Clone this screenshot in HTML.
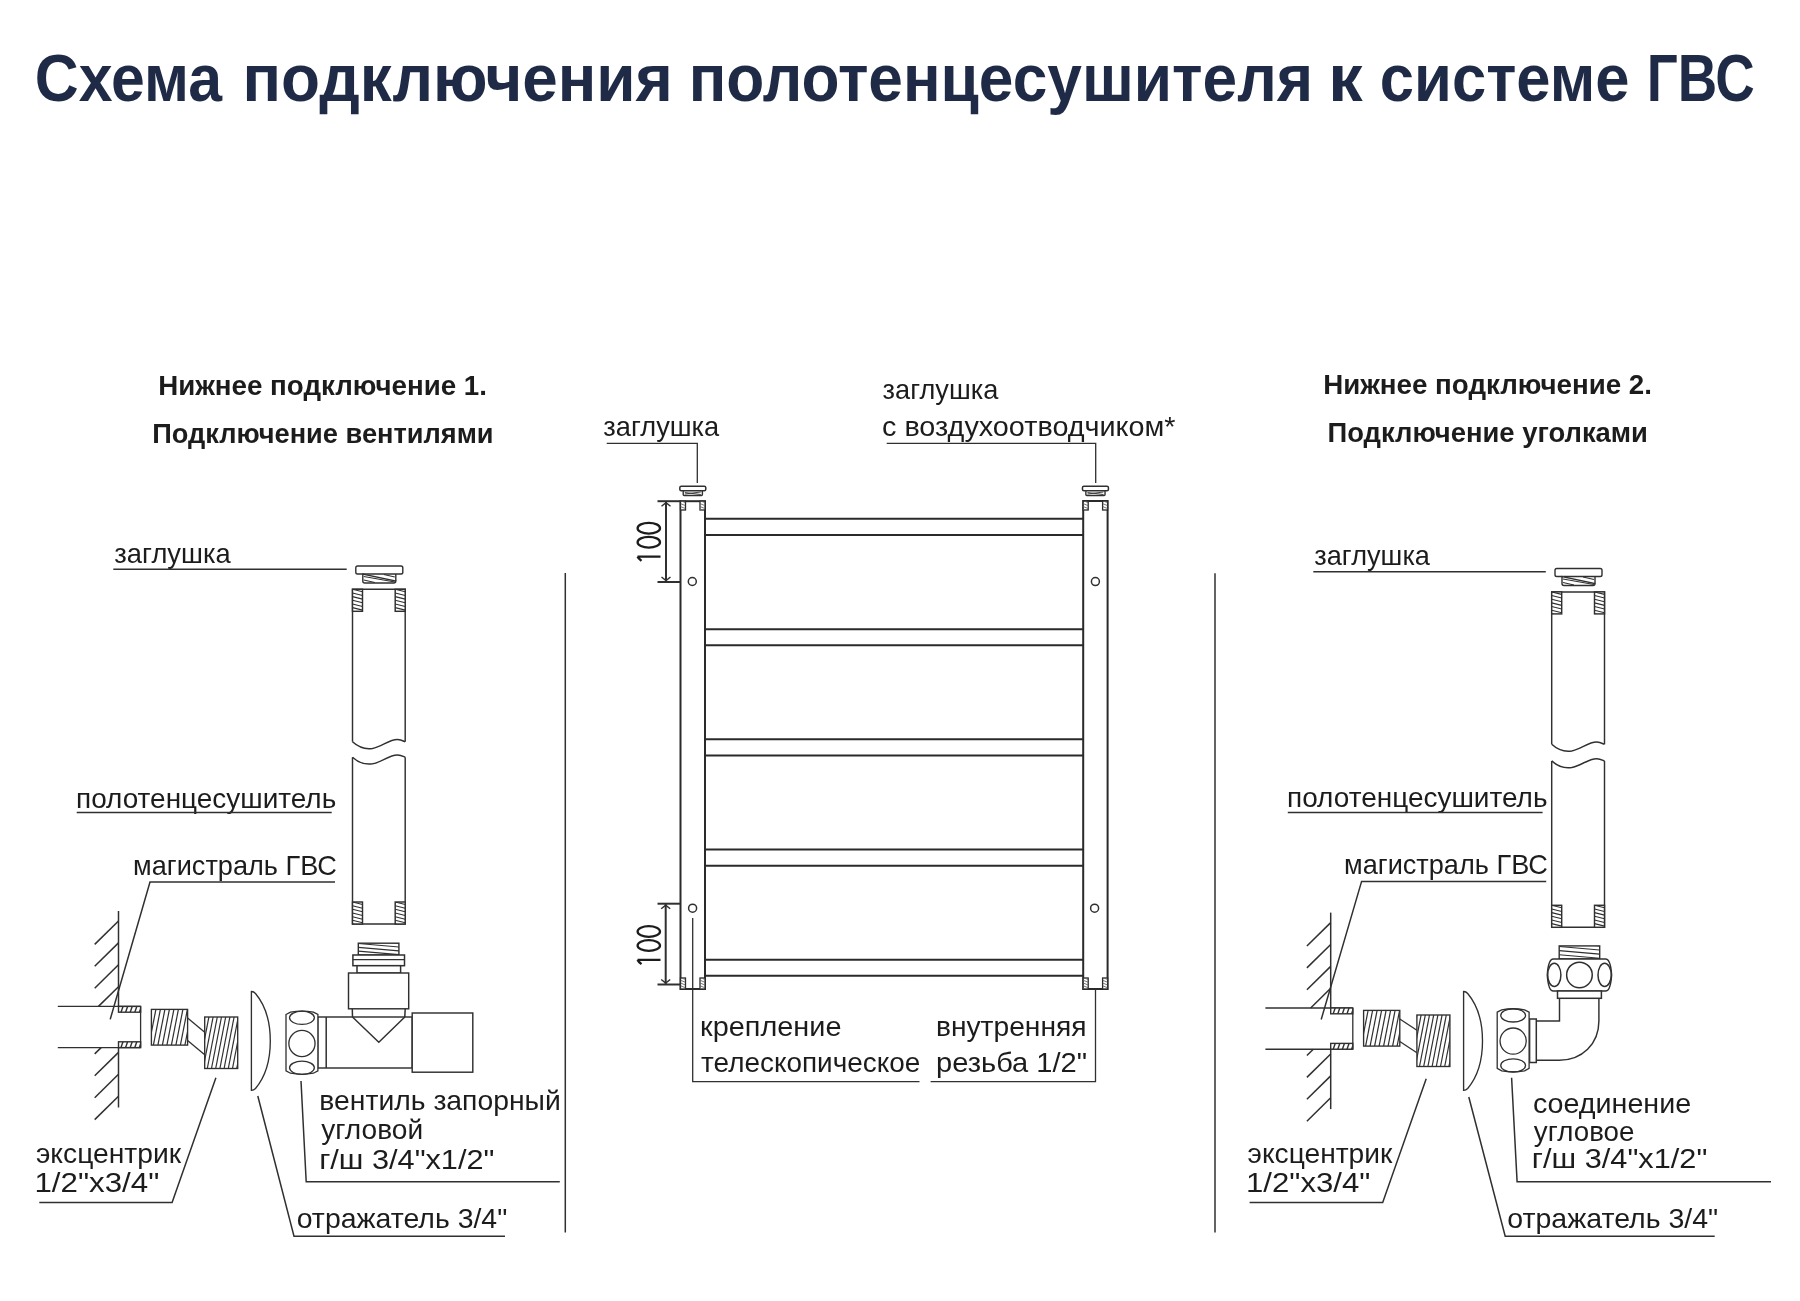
<!DOCTYPE html><html><head><meta charset="utf-8"><title>Схема подключения</title><style>html,body{margin:0;padding:0;background:#fff;}svg{display:block;font-family:"Liberation Sans",sans-serif;will-change:transform;}</style></head><body>
<svg width="1800" height="1301" viewBox="0 0 1800 1301">
<rect x="0" y="0" width="1800" height="1301" fill="#fff"/>
<defs><clipPath id="c0"><rect x="352.5" y="589.3" width="10" height="22"/></clipPath><clipPath id="c1"><rect x="395.2" y="589.3" width="10" height="22"/></clipPath><clipPath id="c2"><rect x="352.5" y="902" width="10" height="22"/></clipPath><clipPath id="c3"><rect x="395.2" y="902" width="10" height="22"/></clipPath><clipPath id="c4"><rect x="358.3" y="943.2" width="40.6" height="11.8"/></clipPath><clipPath id="c5"><rect x="118.5" y="1006.4" width="22.1" height="5.8"/></clipPath><clipPath id="c6"><rect x="118.5" y="1041.8" width="22.1" height="5.8"/></clipPath><clipPath id="c7"><rect x="151.4" y="1009.4" width="36.2" height="35.7"/></clipPath><clipPath id="c8"><rect x="204.7" y="1017" width="33" height="51.5"/></clipPath><clipPath id="c9"><rect x="680.5" y="501.2" width="5" height="8.8"/></clipPath><clipPath id="c10"><rect x="680.5" y="978" width="5" height="11"/></clipPath><clipPath id="c11"><rect x="700" y="501.2" width="5" height="8.8"/></clipPath><clipPath id="c12"><rect x="700" y="978" width="5" height="11"/></clipPath><clipPath id="c13"><rect x="1083.2" y="501.2" width="5" height="8.8"/></clipPath><clipPath id="c14"><rect x="1083.2" y="978" width="5" height="11"/></clipPath><clipPath id="c15"><rect x="1102.6" y="501.2" width="5" height="8.8"/></clipPath><clipPath id="c16"><rect x="1102.6" y="978" width="5" height="11"/></clipPath><clipPath id="c17"><rect x="1551.7" y="591.9" width="10" height="22"/></clipPath><clipPath id="c18"><rect x="1594.5" y="591.9" width="10" height="22"/></clipPath><clipPath id="c19"><rect x="1551.7" y="905.3" width="10" height="22"/></clipPath><clipPath id="c20"><rect x="1594.5" y="905.3" width="10" height="22"/></clipPath><clipPath id="c21"><rect x="1559.2" y="945.9" width="40.5" height="13"/></clipPath><clipPath id="c22"><rect x="1330.7" y="1008" width="22.1" height="5.8"/></clipPath><clipPath id="c23"><rect x="1330.7" y="1043.4" width="22.1" height="5.8"/></clipPath><clipPath id="c24"><rect x="1363.6" y="1010.4" width="36.2" height="35.7"/></clipPath><clipPath id="c25"><rect x="1416.9" y="1015" width="33" height="51.5"/></clipPath></defs>
<text x="34.87" y="101.3" font-size="66" fill="#1f2b46" font-weight="bold" textLength="187.07" lengthAdjust="spacingAndGlyphs">Схема</text>
<text x="242.53" y="101.3" font-size="66" fill="#1f2b46" font-weight="bold" textLength="430.29" lengthAdjust="spacingAndGlyphs">подключения</text>
<text x="688.64" y="101.3" font-size="66" fill="#1f2b46" font-weight="bold" textLength="624.37" lengthAdjust="spacingAndGlyphs">полотенцесушителя</text>
<text x="1328.28" y="101.3" font-size="66" fill="#1f2b46" font-weight="bold" textLength="34.45" lengthAdjust="spacingAndGlyphs">к</text>
<text x="1379.84" y="101.3" font-size="66" fill="#1f2b46" font-weight="bold" textLength="249.66" lengthAdjust="spacingAndGlyphs">системе</text>
<text x="1646.85" y="101.3" font-size="66" fill="#1f2b46" font-weight="bold" textLength="107.79" lengthAdjust="spacingAndGlyphs">ГВС</text>
<text x="158.2" y="395" font-size="27" fill="#1c1c1c" font-weight="bold" textLength="328.71" lengthAdjust="spacingAndGlyphs">Нижнее подключение 1.</text>
<text x="152.23" y="442.7" font-size="27" fill="#1c1c1c" font-weight="bold" textLength="341.35" lengthAdjust="spacingAndGlyphs">Подключение вентилями</text>
<text x="1323.2" y="394" font-size="27" fill="#1c1c1c" font-weight="bold" textLength="328.71" lengthAdjust="spacingAndGlyphs">Нижнее подключение 2.</text>
<text x="1327.52" y="441.7" font-size="27" fill="#1c1c1c" font-weight="bold" textLength="320.43" lengthAdjust="spacingAndGlyphs">Подключение уголками</text>
<line x1="565.3" y1="573" x2="565.3" y2="1232.4" stroke="#303030" stroke-width="1.5"/>
<rect x="355.8" y="566" width="47" height="8" rx="1.8" stroke="#303030" stroke-width="1.4" fill="#fff"/>
<path d="M362.8,574 L362.8,581 Q362.8,583 364.8,583 L393.8,583 Q395.8,583 395.8,581 Z" stroke="#303030" stroke-width="1.4" fill="#fff"/>
<path d="M395.8,581 L395.8,574" stroke="#303030" stroke-width="1.4" fill="none"/>
<line x1="363.8" y1="576.5" x2="394.8" y2="582" stroke="#303030" stroke-width="1.1"/>
<line x1="363.8" y1="580" x2="374.8" y2="582.5" stroke="#303030" stroke-width="1.1"/>
<line x1="383.8" y1="574.5" x2="394.8" y2="577" stroke="#303030" stroke-width="1.1"/>
<path d="M352.5,741.8 L352.5,589.3 L405.2,589.3 L405.2,741.8" stroke="#303030" stroke-width="1.45" fill="none"/>
<path d="M352.5,741.8 C358.5,747.3 364.5,749.6 372.5,748.4 C381.5,746.8 389.5,739.4 397.5,739.6 C401.5,739.8 403.5,741.2 405.2,741.8" stroke="#303030" stroke-width="1.5" fill="none"/>
<path d="M352.5,757.2 C358.5,762.7 364.5,765 372.5,763.8 C381.5,762.2 389.5,754.8 397.5,755 C401.5,755.2 403.5,756.6 405.2,757.2" stroke="#303030" stroke-width="1.5" fill="none"/>
<path d="M352.5,757.2 L352.5,924 L405.2,924 L405.2,757.2" stroke="#303030" stroke-width="1.45" fill="none"/>
<rect x="352.5" y="589.3" width="10" height="22" rx="0" stroke="#303030" stroke-width="1.45" fill="#fff"/>
<g clip-path="url(#c0)">
<line x1="352.5" y1="585.63" x2="362.5" y2="588.13" stroke="#303030" stroke-width="1.1"/>
<line x1="352.5" y1="589.3" x2="362.5" y2="591.8" stroke="#303030" stroke-width="1.1"/>
<line x1="352.5" y1="592.97" x2="362.5" y2="595.47" stroke="#303030" stroke-width="1.1"/>
<line x1="352.5" y1="596.63" x2="362.5" y2="599.13" stroke="#303030" stroke-width="1.1"/>
<line x1="352.5" y1="600.3" x2="362.5" y2="602.8" stroke="#303030" stroke-width="1.1"/>
<line x1="352.5" y1="603.97" x2="362.5" y2="606.47" stroke="#303030" stroke-width="1.1"/>
<line x1="352.5" y1="607.63" x2="362.5" y2="610.13" stroke="#303030" stroke-width="1.1"/>
<line x1="352.5" y1="611.3" x2="362.5" y2="613.8" stroke="#303030" stroke-width="1.1"/>
<line x1="352.5" y1="614.97" x2="362.5" y2="617.47" stroke="#303030" stroke-width="1.1"/>
</g>
<rect x="395.2" y="589.3" width="10" height="22" rx="0" stroke="#303030" stroke-width="1.45" fill="#fff"/>
<g clip-path="url(#c1)">
<line x1="395.2" y1="585.63" x2="405.2" y2="588.13" stroke="#303030" stroke-width="1.1"/>
<line x1="395.2" y1="589.3" x2="405.2" y2="591.8" stroke="#303030" stroke-width="1.1"/>
<line x1="395.2" y1="592.97" x2="405.2" y2="595.47" stroke="#303030" stroke-width="1.1"/>
<line x1="395.2" y1="596.63" x2="405.2" y2="599.13" stroke="#303030" stroke-width="1.1"/>
<line x1="395.2" y1="600.3" x2="405.2" y2="602.8" stroke="#303030" stroke-width="1.1"/>
<line x1="395.2" y1="603.97" x2="405.2" y2="606.47" stroke="#303030" stroke-width="1.1"/>
<line x1="395.2" y1="607.63" x2="405.2" y2="610.13" stroke="#303030" stroke-width="1.1"/>
<line x1="395.2" y1="611.3" x2="405.2" y2="613.8" stroke="#303030" stroke-width="1.1"/>
<line x1="395.2" y1="614.97" x2="405.2" y2="617.47" stroke="#303030" stroke-width="1.1"/>
</g>
<rect x="352.5" y="902" width="10" height="22" rx="0" stroke="#303030" stroke-width="1.45" fill="#fff"/>
<g clip-path="url(#c2)">
<line x1="352.5" y1="898.33" x2="362.5" y2="900.83" stroke="#303030" stroke-width="1.1"/>
<line x1="352.5" y1="902" x2="362.5" y2="904.5" stroke="#303030" stroke-width="1.1"/>
<line x1="352.5" y1="905.67" x2="362.5" y2="908.17" stroke="#303030" stroke-width="1.1"/>
<line x1="352.5" y1="909.33" x2="362.5" y2="911.83" stroke="#303030" stroke-width="1.1"/>
<line x1="352.5" y1="913" x2="362.5" y2="915.5" stroke="#303030" stroke-width="1.1"/>
<line x1="352.5" y1="916.67" x2="362.5" y2="919.17" stroke="#303030" stroke-width="1.1"/>
<line x1="352.5" y1="920.33" x2="362.5" y2="922.83" stroke="#303030" stroke-width="1.1"/>
<line x1="352.5" y1="924" x2="362.5" y2="926.5" stroke="#303030" stroke-width="1.1"/>
<line x1="352.5" y1="927.67" x2="362.5" y2="930.17" stroke="#303030" stroke-width="1.1"/>
</g>
<rect x="395.2" y="902" width="10" height="22" rx="0" stroke="#303030" stroke-width="1.45" fill="#fff"/>
<g clip-path="url(#c3)">
<line x1="395.2" y1="898.33" x2="405.2" y2="900.83" stroke="#303030" stroke-width="1.1"/>
<line x1="395.2" y1="902" x2="405.2" y2="904.5" stroke="#303030" stroke-width="1.1"/>
<line x1="395.2" y1="905.67" x2="405.2" y2="908.17" stroke="#303030" stroke-width="1.1"/>
<line x1="395.2" y1="909.33" x2="405.2" y2="911.83" stroke="#303030" stroke-width="1.1"/>
<line x1="395.2" y1="913" x2="405.2" y2="915.5" stroke="#303030" stroke-width="1.1"/>
<line x1="395.2" y1="916.67" x2="405.2" y2="919.17" stroke="#303030" stroke-width="1.1"/>
<line x1="395.2" y1="920.33" x2="405.2" y2="922.83" stroke="#303030" stroke-width="1.1"/>
<line x1="395.2" y1="924" x2="405.2" y2="926.5" stroke="#303030" stroke-width="1.1"/>
<line x1="395.2" y1="927.67" x2="405.2" y2="930.17" stroke="#303030" stroke-width="1.1"/>
</g>
<rect x="358.3" y="943.2" width="40.6" height="11.8" rx="0" stroke="#303030" stroke-width="1.4" fill="#fff"/>
<g clip-path="url(#c4)">
<line x1="358.3" y1="939.7" x2="398.9" y2="943.2" stroke="#303030" stroke-width="1.1"/>
<line x1="358.3" y1="943.53" x2="398.9" y2="947.03" stroke="#303030" stroke-width="1.1"/>
<line x1="358.3" y1="947.35" x2="398.9" y2="950.85" stroke="#303030" stroke-width="1.1"/>
<line x1="358.3" y1="951.17" x2="398.9" y2="954.67" stroke="#303030" stroke-width="1.1"/>
<line x1="358.3" y1="955" x2="398.9" y2="958.5" stroke="#303030" stroke-width="1.1"/>
<line x1="358.3" y1="958.83" x2="398.9" y2="962.33" stroke="#303030" stroke-width="1.1"/>
</g>
<rect x="352.9" y="955" width="51.6" height="10.7" rx="0" stroke="#303030" stroke-width="1.5" fill="#fff"/>
<line x1="352.9" y1="959.7" x2="404.5" y2="959.7" stroke="#303030" stroke-width="1.3"/>
<rect x="357" y="965.7" width="43.6" height="7.3" rx="0" stroke="#303030" stroke-width="1.5" fill="#fff"/>
<rect x="348.5" y="973" width="60.2" height="35.8" rx="0" stroke="#303030" stroke-width="1.45" fill="#fff"/>
<path d="M352.3,1008.8 L352.5,1017 M405.2,1008.8 L404.8,1017" stroke="#303030" stroke-width="1.5" fill="none"/>
<rect x="317.8" y="1017" width="94.4" height="51" rx="0" stroke="#303030" stroke-width="1.45" fill="#fff"/>
<line x1="326.2" y1="1017" x2="326.2" y2="1068" stroke="#303030" stroke-width="1.5"/>
<path d="M352.5,1017 L378.8,1042.2 L404.8,1017" stroke="#303030" stroke-width="1.45" fill="none" stroke-linejoin="miter"/>
<rect x="412.2" y="1013" width="60.6" height="59.2" rx="0" stroke="#303030" stroke-width="1.45" fill="#fff"/>
<line x1="118.5" y1="911" x2="118.5" y2="1006.4" stroke="#303030" stroke-width="1.5"/>
<line x1="118.5" y1="1047.6" x2="118.5" y2="1107.5" stroke="#303030" stroke-width="1.5"/>
<line x1="118.5" y1="921" x2="94.7" y2="944.4" stroke="#303030" stroke-width="1.5"/>
<line x1="118.5" y1="942.9" x2="94.7" y2="966.3" stroke="#303030" stroke-width="1.5"/>
<line x1="118.5" y1="964.8" x2="94.7" y2="988.2" stroke="#303030" stroke-width="1.5"/>
<line x1="118.5" y1="986.7" x2="98.46" y2="1006.4" stroke="#303030" stroke-width="1.5"/>
<line x1="101.11" y1="1047.6" x2="94.7" y2="1053.9" stroke="#303030" stroke-width="1.5"/>
<line x1="118.5" y1="1052.4" x2="94.7" y2="1075.8" stroke="#303030" stroke-width="1.5"/>
<line x1="118.5" y1="1074.3" x2="94.7" y2="1097.7" stroke="#303030" stroke-width="1.5"/>
<line x1="118.5" y1="1096.2" x2="94.7" y2="1119.6" stroke="#303030" stroke-width="1.5"/>
<line x1="57.8" y1="1006.4" x2="140.6" y2="1006.4" stroke="#303030" stroke-width="1.4"/>
<line x1="57.8" y1="1047.6" x2="140.6" y2="1047.6" stroke="#303030" stroke-width="1.4"/>
<line x1="140.6" y1="1006.4" x2="140.6" y2="1047.6" stroke="#303030" stroke-width="1.3"/>
<rect x="118.5" y="1006.4" width="22.1" height="5.8" rx="0" stroke="#303030" stroke-width="1.4" fill="#fff"/>
<g clip-path="url(#c5)">
<line x1="121" y1="1012.2" x2="123" y2="1006.4" stroke="#303030" stroke-width="1.4"/>
<line x1="125.6" y1="1012.2" x2="127.6" y2="1006.4" stroke="#303030" stroke-width="1.4"/>
<line x1="130.2" y1="1012.2" x2="132.2" y2="1006.4" stroke="#303030" stroke-width="1.4"/>
<line x1="134.8" y1="1012.2" x2="136.8" y2="1006.4" stroke="#303030" stroke-width="1.4"/>
<line x1="139.4" y1="1012.2" x2="141.4" y2="1006.4" stroke="#303030" stroke-width="1.4"/>
</g>
<rect x="118.5" y="1041.8" width="22.1" height="5.8" rx="0" stroke="#303030" stroke-width="1.4" fill="#fff"/>
<g clip-path="url(#c6)">
<line x1="121" y1="1047.6" x2="123" y2="1041.8" stroke="#303030" stroke-width="1.4"/>
<line x1="125.6" y1="1047.6" x2="127.6" y2="1041.8" stroke="#303030" stroke-width="1.4"/>
<line x1="130.2" y1="1047.6" x2="132.2" y2="1041.8" stroke="#303030" stroke-width="1.4"/>
<line x1="134.8" y1="1047.6" x2="136.8" y2="1041.8" stroke="#303030" stroke-width="1.4"/>
<line x1="139.4" y1="1047.6" x2="141.4" y2="1041.8" stroke="#303030" stroke-width="1.4"/>
</g>
<rect x="151.4" y="1009.4" width="36.2" height="35.7" rx="0" stroke="#303030" stroke-width="1.35" fill="#fff"/>
<g clip-path="url(#c7)">
<line x1="144.4" y1="1045.1" x2="151.4" y2="1009.4" stroke="#303030" stroke-width="1.2"/>
<line x1="148.9" y1="1045.1" x2="155.9" y2="1009.4" stroke="#303030" stroke-width="1.2"/>
<line x1="153.4" y1="1045.1" x2="160.4" y2="1009.4" stroke="#303030" stroke-width="1.2"/>
<line x1="157.9" y1="1045.1" x2="164.9" y2="1009.4" stroke="#303030" stroke-width="1.2"/>
<line x1="162.4" y1="1045.1" x2="169.4" y2="1009.4" stroke="#303030" stroke-width="1.2"/>
<line x1="166.9" y1="1045.1" x2="173.9" y2="1009.4" stroke="#303030" stroke-width="1.2"/>
<line x1="171.4" y1="1045.1" x2="178.4" y2="1009.4" stroke="#303030" stroke-width="1.2"/>
<line x1="175.9" y1="1045.1" x2="182.9" y2="1009.4" stroke="#303030" stroke-width="1.2"/>
<line x1="180.4" y1="1045.1" x2="187.4" y2="1009.4" stroke="#303030" stroke-width="1.2"/>
<line x1="184.9" y1="1045.1" x2="191.9" y2="1009.4" stroke="#303030" stroke-width="1.2"/>
<line x1="189.4" y1="1045.1" x2="196.4" y2="1009.4" stroke="#303030" stroke-width="1.2"/>
<line x1="193.9" y1="1045.1" x2="200.9" y2="1009.4" stroke="#303030" stroke-width="1.2"/>
</g>
<line x1="187.6" y1="1018" x2="204.7" y2="1032.3" stroke="#303030" stroke-width="1.3"/>
<line x1="187.6" y1="1040.5" x2="204.7" y2="1054.7" stroke="#303030" stroke-width="1.3"/>
<rect x="204.7" y="1017" width="33" height="51.5" rx="0" stroke="#303030" stroke-width="1.35" fill="#fff"/>
<g clip-path="url(#c8)">
<line x1="194.7" y1="1068.5" x2="204.7" y2="1017" stroke="#303030" stroke-width="1.2"/>
<line x1="198.9" y1="1068.5" x2="208.9" y2="1017" stroke="#303030" stroke-width="1.2"/>
<line x1="203.1" y1="1068.5" x2="213.1" y2="1017" stroke="#303030" stroke-width="1.2"/>
<line x1="207.3" y1="1068.5" x2="217.3" y2="1017" stroke="#303030" stroke-width="1.2"/>
<line x1="211.5" y1="1068.5" x2="221.5" y2="1017" stroke="#303030" stroke-width="1.2"/>
<line x1="215.7" y1="1068.5" x2="225.7" y2="1017" stroke="#303030" stroke-width="1.2"/>
<line x1="219.9" y1="1068.5" x2="229.9" y2="1017" stroke="#303030" stroke-width="1.2"/>
<line x1="224.1" y1="1068.5" x2="234.1" y2="1017" stroke="#303030" stroke-width="1.2"/>
<line x1="228.3" y1="1068.5" x2="238.3" y2="1017" stroke="#303030" stroke-width="1.2"/>
<line x1="232.5" y1="1068.5" x2="242.5" y2="1017" stroke="#303030" stroke-width="1.2"/>
<line x1="236.7" y1="1068.5" x2="246.7" y2="1017" stroke="#303030" stroke-width="1.2"/>
<line x1="240.9" y1="1068.5" x2="250.9" y2="1017" stroke="#303030" stroke-width="1.2"/>
<line x1="245.1" y1="1068.5" x2="255.1" y2="1017" stroke="#303030" stroke-width="1.2"/>
</g>
<path d="M251.4,1090.4 L251.4,991.5 Q253.5,991.3 255.5,993.5 C266,1006 270.3,1024 270.3,1041 C270.3,1058 266,1076 255.5,1088.5 Q253.5,1090.5 251.4,1090.4 Z" stroke="#303030" stroke-width="1.35" fill="none"/>
<path d="M286,1014.5 L290.5,1012.2 Q301.95,1010.1 313.4,1012.2 L317.9,1014.5 L317.9,1070.8 L313.4,1073.2 Q301.95,1075.5 290.5,1073.2 L286,1070.8 Z" stroke="#303030" stroke-width="1.3" fill="#fff"/>
<ellipse cx="301.95" cy="1017.8" rx="12.4" ry="6.6" stroke="#303030" stroke-width="1.3" fill="none"/>
<ellipse cx="301.95" cy="1043.5" rx="13.1" ry="13.1" stroke="#303030" stroke-width="1.3" fill="none"/>
<ellipse cx="301.95" cy="1067.8" rx="12.4" ry="6.6" stroke="#303030" stroke-width="1.3" fill="none"/>
<text x="114.32" y="562.7" font-size="28" fill="#1c1c1c" textLength="116.35" lengthAdjust="spacingAndGlyphs">заглушка</text>
<line x1="113.3" y1="569.3" x2="346.7" y2="569.3" stroke="#303030" stroke-width="1.5"/>
<text x="76.04" y="807.5" font-size="28" fill="#1c1c1c" textLength="260.15" lengthAdjust="spacingAndGlyphs">полотенцесушитель</text>
<line x1="76.7" y1="812.5" x2="331.7" y2="812.5" stroke="#303030" stroke-width="1.5"/>
<text x="133.1" y="874.7" font-size="28" fill="#1c1c1c" textLength="203.84" lengthAdjust="spacingAndGlyphs">магистраль ГВС</text>
<path d="M335,882 L150,882 L110.2,1019.4" stroke="#303030" stroke-width="1.5" fill="none" stroke-linejoin="miter"/>
<path d="M215.9,1077.7 L172.1,1202.4 L39.3,1202.4" stroke="#303030" stroke-width="1.5" fill="none" stroke-linejoin="miter"/>
<text x="35.95" y="1163" font-size="28" fill="#1c1c1c" textLength="145.13" lengthAdjust="spacingAndGlyphs">эксцентрик</text>
<text x="34.45" y="1191.5" font-size="28" fill="#1c1c1c" textLength="124.86" lengthAdjust="spacingAndGlyphs">1/2&quot;x3/4&quot;</text>
<path d="M257.8,1096 L294,1236.3 L505,1236.3" stroke="#303030" stroke-width="1.5" fill="none" stroke-linejoin="miter"/>
<text x="296.66" y="1228" font-size="28" fill="#1c1c1c" textLength="210.62" lengthAdjust="spacingAndGlyphs">отражатель 3/4&quot;</text>
<path d="M301,1081 L306.2,1181.8 L559.8,1181.8" stroke="#303030" stroke-width="1.5" fill="none" stroke-linejoin="miter"/>
<text x="319.32" y="1110" font-size="28" fill="#1c1c1c" textLength="241.48" lengthAdjust="spacingAndGlyphs">вентиль запорный</text>
<text x="321.16" y="1139" font-size="28" fill="#1c1c1c" textLength="101.97" lengthAdjust="spacingAndGlyphs">угловой</text>
<text x="319.15" y="1169" font-size="28" fill="#1c1c1c" textLength="175.27" lengthAdjust="spacingAndGlyphs">г/ш 3/4&quot;x1/2&quot;</text>
<rect x="680.5" y="501.2" width="24.5" height="487.8" rx="0" stroke="#2a2a2a" stroke-width="2" fill="#fff"/>
<rect x="1083.2" y="501" width="24.4" height="488" rx="0" stroke="#2a2a2a" stroke-width="2" fill="#fff"/>
<line x1="705" y1="518.8" x2="1083.2" y2="518.8" stroke="#2a2a2a" stroke-width="2"/>
<line x1="705" y1="535" x2="1083.2" y2="535" stroke="#2a2a2a" stroke-width="2"/>
<line x1="705" y1="629.2" x2="1083.2" y2="629.2" stroke="#2a2a2a" stroke-width="2"/>
<line x1="705" y1="645.2" x2="1083.2" y2="645.2" stroke="#2a2a2a" stroke-width="2"/>
<line x1="705" y1="739.3" x2="1083.2" y2="739.3" stroke="#2a2a2a" stroke-width="2"/>
<line x1="705" y1="755.6" x2="1083.2" y2="755.6" stroke="#2a2a2a" stroke-width="2"/>
<line x1="705" y1="849.4" x2="1083.2" y2="849.4" stroke="#2a2a2a" stroke-width="2"/>
<line x1="705" y1="865.7" x2="1083.2" y2="865.7" stroke="#2a2a2a" stroke-width="2"/>
<line x1="705" y1="959.8" x2="1083.2" y2="959.8" stroke="#2a2a2a" stroke-width="2"/>
<line x1="705" y1="975.8" x2="1083.2" y2="975.8" stroke="#2a2a2a" stroke-width="2"/>
<rect x="680.5" y="501.2" width="5" height="8.8" rx="0" stroke="#2a2a2a" stroke-width="1.3" fill="#fff"/>
<g clip-path="url(#c9)">
<line x1="680.5" y1="500.7" x2="685.5" y2="502.7" stroke="#666" stroke-width="0.9"/>
<line x1="680.5" y1="503.63" x2="685.5" y2="505.63" stroke="#666" stroke-width="0.9"/>
<line x1="680.5" y1="506.57" x2="685.5" y2="508.57" stroke="#666" stroke-width="0.9"/>
<line x1="680.5" y1="509.5" x2="685.5" y2="511.5" stroke="#666" stroke-width="0.9"/>
</g>
<rect x="680.5" y="978" width="5" height="11" rx="0" stroke="#2a2a2a" stroke-width="1.3" fill="#fff"/>
<g clip-path="url(#c10)">
<line x1="680.5" y1="977.5" x2="685.5" y2="979.5" stroke="#666" stroke-width="0.9"/>
<line x1="680.5" y1="980.25" x2="685.5" y2="982.25" stroke="#666" stroke-width="0.9"/>
<line x1="680.5" y1="983" x2="685.5" y2="985" stroke="#666" stroke-width="0.9"/>
<line x1="680.5" y1="985.75" x2="685.5" y2="987.75" stroke="#666" stroke-width="0.9"/>
<line x1="680.5" y1="988.5" x2="685.5" y2="990.5" stroke="#666" stroke-width="0.9"/>
</g>
<rect x="700" y="501.2" width="5" height="8.8" rx="0" stroke="#2a2a2a" stroke-width="1.3" fill="#fff"/>
<g clip-path="url(#c11)">
<line x1="700" y1="500.7" x2="705" y2="502.7" stroke="#666" stroke-width="0.9"/>
<line x1="700" y1="503.63" x2="705" y2="505.63" stroke="#666" stroke-width="0.9"/>
<line x1="700" y1="506.57" x2="705" y2="508.57" stroke="#666" stroke-width="0.9"/>
<line x1="700" y1="509.5" x2="705" y2="511.5" stroke="#666" stroke-width="0.9"/>
</g>
<rect x="700" y="978" width="5" height="11" rx="0" stroke="#2a2a2a" stroke-width="1.3" fill="#fff"/>
<g clip-path="url(#c12)">
<line x1="700" y1="977.5" x2="705" y2="979.5" stroke="#666" stroke-width="0.9"/>
<line x1="700" y1="980.25" x2="705" y2="982.25" stroke="#666" stroke-width="0.9"/>
<line x1="700" y1="983" x2="705" y2="985" stroke="#666" stroke-width="0.9"/>
<line x1="700" y1="985.75" x2="705" y2="987.75" stroke="#666" stroke-width="0.9"/>
<line x1="700" y1="988.5" x2="705" y2="990.5" stroke="#666" stroke-width="0.9"/>
</g>
<rect x="1083.2" y="501.2" width="5" height="8.8" rx="0" stroke="#2a2a2a" stroke-width="1.3" fill="#fff"/>
<g clip-path="url(#c13)">
<line x1="1083.2" y1="500.7" x2="1088.2" y2="502.7" stroke="#666" stroke-width="0.9"/>
<line x1="1083.2" y1="503.63" x2="1088.2" y2="505.63" stroke="#666" stroke-width="0.9"/>
<line x1="1083.2" y1="506.57" x2="1088.2" y2="508.57" stroke="#666" stroke-width="0.9"/>
<line x1="1083.2" y1="509.5" x2="1088.2" y2="511.5" stroke="#666" stroke-width="0.9"/>
</g>
<rect x="1083.2" y="978" width="5" height="11" rx="0" stroke="#2a2a2a" stroke-width="1.3" fill="#fff"/>
<g clip-path="url(#c14)">
<line x1="1083.2" y1="977.5" x2="1088.2" y2="979.5" stroke="#666" stroke-width="0.9"/>
<line x1="1083.2" y1="980.25" x2="1088.2" y2="982.25" stroke="#666" stroke-width="0.9"/>
<line x1="1083.2" y1="983" x2="1088.2" y2="985" stroke="#666" stroke-width="0.9"/>
<line x1="1083.2" y1="985.75" x2="1088.2" y2="987.75" stroke="#666" stroke-width="0.9"/>
<line x1="1083.2" y1="988.5" x2="1088.2" y2="990.5" stroke="#666" stroke-width="0.9"/>
</g>
<rect x="1102.6" y="501.2" width="5" height="8.8" rx="0" stroke="#2a2a2a" stroke-width="1.3" fill="#fff"/>
<g clip-path="url(#c15)">
<line x1="1102.6" y1="500.7" x2="1107.6" y2="502.7" stroke="#666" stroke-width="0.9"/>
<line x1="1102.6" y1="503.63" x2="1107.6" y2="505.63" stroke="#666" stroke-width="0.9"/>
<line x1="1102.6" y1="506.57" x2="1107.6" y2="508.57" stroke="#666" stroke-width="0.9"/>
<line x1="1102.6" y1="509.5" x2="1107.6" y2="511.5" stroke="#666" stroke-width="0.9"/>
</g>
<rect x="1102.6" y="978" width="5" height="11" rx="0" stroke="#2a2a2a" stroke-width="1.3" fill="#fff"/>
<g clip-path="url(#c16)">
<line x1="1102.6" y1="977.5" x2="1107.6" y2="979.5" stroke="#666" stroke-width="0.9"/>
<line x1="1102.6" y1="980.25" x2="1107.6" y2="982.25" stroke="#666" stroke-width="0.9"/>
<line x1="1102.6" y1="983" x2="1107.6" y2="985" stroke="#666" stroke-width="0.9"/>
<line x1="1102.6" y1="985.75" x2="1107.6" y2="987.75" stroke="#666" stroke-width="0.9"/>
<line x1="1102.6" y1="988.5" x2="1107.6" y2="990.5" stroke="#666" stroke-width="0.9"/>
</g>
<rect x="679.8" y="486.3" width="26" height="4.5" rx="1.5" stroke="#303030" stroke-width="1.5" fill="#fff"/>
<rect x="683.2" y="490.8" width="19.2" height="4.7" rx="1" stroke="#303030" stroke-width="1.4" fill="#fff"/>
<line x1="684.8" y1="492.5" x2="700.8" y2="494.5" stroke="#303030" stroke-width="0.9"/>
<line x1="684.8" y1="494" x2="700.8" y2="492" stroke="#303030" stroke-width="0.9"/>
<rect x="1082.45" y="486.3" width="26" height="4.5" rx="1.5" stroke="#303030" stroke-width="1.5" fill="#fff"/>
<rect x="1085.85" y="490.8" width="19.2" height="4.7" rx="1" stroke="#303030" stroke-width="1.4" fill="#fff"/>
<line x1="1087.45" y1="492.5" x2="1103.45" y2="494.5" stroke="#303030" stroke-width="0.9"/>
<line x1="1087.45" y1="494" x2="1103.45" y2="492" stroke="#303030" stroke-width="0.9"/>
<circle cx="692.3" cy="581.5" r="4" stroke="#303030" stroke-width="1.5" fill="#fff"/>
<circle cx="1095.4" cy="581.6" r="4" stroke="#303030" stroke-width="1.5" fill="#fff"/>
<circle cx="692.6" cy="908.2" r="4" stroke="#303030" stroke-width="1.5" fill="#fff"/>
<circle cx="1094.6" cy="908.2" r="4" stroke="#303030" stroke-width="1.5" fill="#fff"/>
<path d="M606.7,443.3 L697.3,443.3 L697.3,483" stroke="#303030" stroke-width="1.3" fill="none" stroke-linejoin="miter"/>
<path d="M886.7,443.3 L1095.7,443.3 L1095.7,483" stroke="#303030" stroke-width="1.3" fill="none" stroke-linejoin="miter"/>
<text x="603.32" y="436" font-size="28" fill="#1c1c1c" textLength="115.95" lengthAdjust="spacingAndGlyphs">заглушка</text>
<text x="882.62" y="399.3" font-size="28" fill="#1c1c1c" textLength="115.65" lengthAdjust="spacingAndGlyphs">заглушка</text>
<text x="882" y="436" font-size="28" fill="#1c1c1c" textLength="293.54" lengthAdjust="spacingAndGlyphs">с воздухоотводчиком*</text>
<line x1="657.5" y1="501.2" x2="680.5" y2="501.2" stroke="#303030" stroke-width="2"/>
<line x1="657.5" y1="582" x2="680.5" y2="582" stroke="#303030" stroke-width="2"/>
<line x1="666" y1="501.2" x2="666" y2="582" stroke="#303030" stroke-width="2"/>
<path d="M661.5,506.2 L666,502.7 L670.5,506.2" stroke="#303030" stroke-width="1.45" fill="none" stroke-linejoin="miter"/>
<path d="M661.5,577 L666,580.5 L670.5,577" stroke="#303030" stroke-width="1.45" fill="none" stroke-linejoin="miter"/>
<line x1="657.5" y1="903.7" x2="680.5" y2="903.7" stroke="#303030" stroke-width="2"/>
<line x1="657.5" y1="984.5" x2="680.5" y2="984.5" stroke="#303030" stroke-width="2"/>
<line x1="665.7" y1="903.7" x2="665.7" y2="984.5" stroke="#303030" stroke-width="2"/>
<path d="M661.2,908.7 L665.7,905.2 L670.2,908.7" stroke="#303030" stroke-width="1.45" fill="none" stroke-linejoin="miter"/>
<path d="M661.2,979.5 L665.7,983 L670.2,979.5" stroke="#303030" stroke-width="1.45" fill="none" stroke-linejoin="miter"/>
<path d="M637.5,556.6 L660.5,556.6 M637.5,556.6 Q638.5,558.5 641.5,560.8" stroke="#1c1c1c" stroke-width="2.3" fill="none"/>
<ellipse cx="648.8" cy="542.2" rx="11.2" ry="5.4" stroke="#1c1c1c" stroke-width="2.3" fill="none"/>
<ellipse cx="648.8" cy="528.2" rx="11.2" ry="5.4" stroke="#1c1c1c" stroke-width="2.3" fill="none"/>
<path d="M637.5,959.9 L660.5,959.9 M637.5,959.9 Q638.5,961.8 641.5,964.1" stroke="#1c1c1c" stroke-width="2.3" fill="none"/>
<ellipse cx="648.8" cy="945.5" rx="11.2" ry="5.4" stroke="#1c1c1c" stroke-width="2.3" fill="none"/>
<ellipse cx="648.8" cy="931.5" rx="11.2" ry="5.4" stroke="#1c1c1c" stroke-width="2.3" fill="none"/>
<path d="M692.7,918 L692.7,1081.6 L919.5,1081.6" stroke="#303030" stroke-width="1.3" fill="none" stroke-linejoin="miter"/>
<path d="M1095.5,989 L1095.5,1081.7 L930.6,1081.7" stroke="#303030" stroke-width="1.3" fill="none" stroke-linejoin="miter"/>
<text x="700.12" y="1036" font-size="28" fill="#1c1c1c" textLength="141.36" lengthAdjust="spacingAndGlyphs">крепление</text>
<text x="701.08" y="1072" font-size="28" fill="#1c1c1c" textLength="219.25" lengthAdjust="spacingAndGlyphs">телескопическое</text>
<text x="935.93" y="1036" font-size="28" fill="#1c1c1c" textLength="150.59" lengthAdjust="spacingAndGlyphs">внутренняя</text>
<text x="936.01" y="1072" font-size="28" fill="#1c1c1c" textLength="151.06" lengthAdjust="spacingAndGlyphs">резьба 1/2&quot;</text>
<line x1="1215" y1="573.3" x2="1215" y2="1232.4" stroke="#303030" stroke-width="1.5"/>
<rect x="1555" y="568.5" width="47" height="8" rx="1.8" stroke="#303030" stroke-width="1.4" fill="#fff"/>
<path d="M1562,576.5 L1562,583.5 Q1562,585.5 1564,585.5 L1593,585.5 Q1595,585.5 1595,583.5 Z" stroke="#303030" stroke-width="1.4" fill="#fff"/>
<path d="M1595,583.5 L1595,576.5" stroke="#303030" stroke-width="1.4" fill="none"/>
<line x1="1563" y1="579" x2="1594" y2="584.5" stroke="#303030" stroke-width="1.1"/>
<line x1="1563" y1="582.5" x2="1574" y2="585" stroke="#303030" stroke-width="1.1"/>
<line x1="1583" y1="577" x2="1594" y2="579.5" stroke="#303030" stroke-width="1.1"/>
<path d="M1551.7,744.3 L1551.7,591.9 L1604.5,591.9 L1604.5,744.3" stroke="#303030" stroke-width="1.45" fill="none"/>
<path d="M1551.7,744.3 C1557.7,749.8 1563.7,752.1 1571.7,750.9 C1580.7,749.3 1588.7,741.9 1596.7,742.1 C1600.7,742.3 1602.7,743.7 1604.5,744.3" stroke="#303030" stroke-width="1.5" fill="none"/>
<path d="M1551.7,760.9 C1557.7,766.4 1563.7,768.7 1571.7,767.5 C1580.7,765.9 1588.7,758.5 1596.7,758.7 C1600.7,758.9 1602.7,760.3 1604.5,760.9" stroke="#303030" stroke-width="1.5" fill="none"/>
<path d="M1551.7,760.9 L1551.7,927.3 L1604.5,927.3 L1604.5,760.9" stroke="#303030" stroke-width="1.45" fill="none"/>
<rect x="1551.7" y="591.9" width="10" height="22" rx="0" stroke="#303030" stroke-width="1.45" fill="#fff"/>
<g clip-path="url(#c17)">
<line x1="1551.7" y1="588.23" x2="1561.7" y2="590.73" stroke="#303030" stroke-width="1.1"/>
<line x1="1551.7" y1="591.9" x2="1561.7" y2="594.4" stroke="#303030" stroke-width="1.1"/>
<line x1="1551.7" y1="595.57" x2="1561.7" y2="598.07" stroke="#303030" stroke-width="1.1"/>
<line x1="1551.7" y1="599.23" x2="1561.7" y2="601.73" stroke="#303030" stroke-width="1.1"/>
<line x1="1551.7" y1="602.9" x2="1561.7" y2="605.4" stroke="#303030" stroke-width="1.1"/>
<line x1="1551.7" y1="606.57" x2="1561.7" y2="609.07" stroke="#303030" stroke-width="1.1"/>
<line x1="1551.7" y1="610.23" x2="1561.7" y2="612.73" stroke="#303030" stroke-width="1.1"/>
<line x1="1551.7" y1="613.9" x2="1561.7" y2="616.4" stroke="#303030" stroke-width="1.1"/>
<line x1="1551.7" y1="617.57" x2="1561.7" y2="620.07" stroke="#303030" stroke-width="1.1"/>
</g>
<rect x="1594.5" y="591.9" width="10" height="22" rx="0" stroke="#303030" stroke-width="1.45" fill="#fff"/>
<g clip-path="url(#c18)">
<line x1="1594.5" y1="588.23" x2="1604.5" y2="590.73" stroke="#303030" stroke-width="1.1"/>
<line x1="1594.5" y1="591.9" x2="1604.5" y2="594.4" stroke="#303030" stroke-width="1.1"/>
<line x1="1594.5" y1="595.57" x2="1604.5" y2="598.07" stroke="#303030" stroke-width="1.1"/>
<line x1="1594.5" y1="599.23" x2="1604.5" y2="601.73" stroke="#303030" stroke-width="1.1"/>
<line x1="1594.5" y1="602.9" x2="1604.5" y2="605.4" stroke="#303030" stroke-width="1.1"/>
<line x1="1594.5" y1="606.57" x2="1604.5" y2="609.07" stroke="#303030" stroke-width="1.1"/>
<line x1="1594.5" y1="610.23" x2="1604.5" y2="612.73" stroke="#303030" stroke-width="1.1"/>
<line x1="1594.5" y1="613.9" x2="1604.5" y2="616.4" stroke="#303030" stroke-width="1.1"/>
<line x1="1594.5" y1="617.57" x2="1604.5" y2="620.07" stroke="#303030" stroke-width="1.1"/>
</g>
<rect x="1551.7" y="905.3" width="10" height="22" rx="0" stroke="#303030" stroke-width="1.45" fill="#fff"/>
<g clip-path="url(#c19)">
<line x1="1551.7" y1="901.63" x2="1561.7" y2="904.13" stroke="#303030" stroke-width="1.1"/>
<line x1="1551.7" y1="905.3" x2="1561.7" y2="907.8" stroke="#303030" stroke-width="1.1"/>
<line x1="1551.7" y1="908.97" x2="1561.7" y2="911.47" stroke="#303030" stroke-width="1.1"/>
<line x1="1551.7" y1="912.63" x2="1561.7" y2="915.13" stroke="#303030" stroke-width="1.1"/>
<line x1="1551.7" y1="916.3" x2="1561.7" y2="918.8" stroke="#303030" stroke-width="1.1"/>
<line x1="1551.7" y1="919.97" x2="1561.7" y2="922.47" stroke="#303030" stroke-width="1.1"/>
<line x1="1551.7" y1="923.63" x2="1561.7" y2="926.13" stroke="#303030" stroke-width="1.1"/>
<line x1="1551.7" y1="927.3" x2="1561.7" y2="929.8" stroke="#303030" stroke-width="1.1"/>
<line x1="1551.7" y1="930.97" x2="1561.7" y2="933.47" stroke="#303030" stroke-width="1.1"/>
</g>
<rect x="1594.5" y="905.3" width="10" height="22" rx="0" stroke="#303030" stroke-width="1.45" fill="#fff"/>
<g clip-path="url(#c20)">
<line x1="1594.5" y1="901.63" x2="1604.5" y2="904.13" stroke="#303030" stroke-width="1.1"/>
<line x1="1594.5" y1="905.3" x2="1604.5" y2="907.8" stroke="#303030" stroke-width="1.1"/>
<line x1="1594.5" y1="908.97" x2="1604.5" y2="911.47" stroke="#303030" stroke-width="1.1"/>
<line x1="1594.5" y1="912.63" x2="1604.5" y2="915.13" stroke="#303030" stroke-width="1.1"/>
<line x1="1594.5" y1="916.3" x2="1604.5" y2="918.8" stroke="#303030" stroke-width="1.1"/>
<line x1="1594.5" y1="919.97" x2="1604.5" y2="922.47" stroke="#303030" stroke-width="1.1"/>
<line x1="1594.5" y1="923.63" x2="1604.5" y2="926.13" stroke="#303030" stroke-width="1.1"/>
<line x1="1594.5" y1="927.3" x2="1604.5" y2="929.8" stroke="#303030" stroke-width="1.1"/>
<line x1="1594.5" y1="930.97" x2="1604.5" y2="933.47" stroke="#303030" stroke-width="1.1"/>
</g>
<rect x="1559.2" y="945.9" width="40.5" height="13" rx="0" stroke="#303030" stroke-width="1.4" fill="#fff"/>
<g clip-path="url(#c21)">
<line x1="1559.2" y1="942.4" x2="1599.7" y2="945.9" stroke="#303030" stroke-width="1.1"/>
<line x1="1559.2" y1="946.52" x2="1599.7" y2="950.02" stroke="#303030" stroke-width="1.1"/>
<line x1="1559.2" y1="950.65" x2="1599.7" y2="954.15" stroke="#303030" stroke-width="1.1"/>
<line x1="1559.2" y1="954.77" x2="1599.7" y2="958.27" stroke="#303030" stroke-width="1.1"/>
<line x1="1559.2" y1="958.9" x2="1599.7" y2="962.4" stroke="#303030" stroke-width="1.1"/>
<line x1="1559.2" y1="963.02" x2="1599.7" y2="966.52" stroke="#303030" stroke-width="1.1"/>
</g>
<path d="M1553.3,958.9 L1605.6,958.9 Q1610.6,958.9 1611.6,974.95 Q1610.6,991 1605.6,991 L1553.3,991 Q1548.3,991 1547.3,974.95 Q1548.3,958.9 1553.3,958.9 Z" stroke="#303030" stroke-width="1.5" fill="#fff"/>
<ellipse cx="1554.3" cy="974.95" rx="6.6" ry="11.6" stroke="#303030" stroke-width="1.5" fill="#fff"/>
<ellipse cx="1579.45" cy="974.95" rx="12.8" ry="12.8" stroke="#303030" stroke-width="1.5" fill="#fff"/>
<ellipse cx="1604.6" cy="974.95" rx="6.6" ry="11.6" stroke="#303030" stroke-width="1.5" fill="#fff"/>
<rect x="1557.5" y="991" width="43.9" height="7.3" rx="0" stroke="#303030" stroke-width="1.5" fill="#fff"/>
<path d="M1559.5,998.3 L1559.5,1021 L1536.3,1021 M1598.9,998.3 L1598.9,1021 C1598.9,1044 1582,1060.3 1559.2,1060.3 L1536.3,1060.3" stroke="#303030" stroke-width="1.45" fill="none"/>
<rect x="1529.6" y="1019" width="6.7" height="43.5" rx="0" stroke="#303030" stroke-width="1.5" fill="#fff"/>
<line x1="1330.7" y1="912.6" x2="1330.7" y2="1008" stroke="#303030" stroke-width="1.5"/>
<line x1="1330.7" y1="1049.2" x2="1330.7" y2="1109.1" stroke="#303030" stroke-width="1.5"/>
<line x1="1330.7" y1="922.6" x2="1306.9" y2="946" stroke="#303030" stroke-width="1.5"/>
<line x1="1330.7" y1="944.5" x2="1306.9" y2="967.9" stroke="#303030" stroke-width="1.5"/>
<line x1="1330.7" y1="966.4" x2="1306.9" y2="989.8" stroke="#303030" stroke-width="1.5"/>
<line x1="1330.7" y1="988.3" x2="1310.66" y2="1008" stroke="#303030" stroke-width="1.5"/>
<line x1="1313.31" y1="1049.2" x2="1306.9" y2="1055.5" stroke="#303030" stroke-width="1.5"/>
<line x1="1330.7" y1="1054" x2="1306.9" y2="1077.4" stroke="#303030" stroke-width="1.5"/>
<line x1="1330.7" y1="1075.9" x2="1306.9" y2="1099.3" stroke="#303030" stroke-width="1.5"/>
<line x1="1330.7" y1="1097.8" x2="1306.9" y2="1121.2" stroke="#303030" stroke-width="1.5"/>
<line x1="1265.4" y1="1008" x2="1352.8" y2="1008" stroke="#303030" stroke-width="1.4"/>
<line x1="1265.4" y1="1049.2" x2="1352.8" y2="1049.2" stroke="#303030" stroke-width="1.4"/>
<line x1="1352.8" y1="1008" x2="1352.8" y2="1049.2" stroke="#303030" stroke-width="1.3"/>
<rect x="1330.7" y="1008" width="22.1" height="5.8" rx="0" stroke="#303030" stroke-width="1.4" fill="#fff"/>
<g clip-path="url(#c22)">
<line x1="1333.2" y1="1013.8" x2="1335.2" y2="1008" stroke="#303030" stroke-width="1.4"/>
<line x1="1337.8" y1="1013.8" x2="1339.8" y2="1008" stroke="#303030" stroke-width="1.4"/>
<line x1="1342.4" y1="1013.8" x2="1344.4" y2="1008" stroke="#303030" stroke-width="1.4"/>
<line x1="1347" y1="1013.8" x2="1349" y2="1008" stroke="#303030" stroke-width="1.4"/>
<line x1="1351.6" y1="1013.8" x2="1353.6" y2="1008" stroke="#303030" stroke-width="1.4"/>
</g>
<rect x="1330.7" y="1043.4" width="22.1" height="5.8" rx="0" stroke="#303030" stroke-width="1.4" fill="#fff"/>
<g clip-path="url(#c23)">
<line x1="1333.2" y1="1049.2" x2="1335.2" y2="1043.4" stroke="#303030" stroke-width="1.4"/>
<line x1="1337.8" y1="1049.2" x2="1339.8" y2="1043.4" stroke="#303030" stroke-width="1.4"/>
<line x1="1342.4" y1="1049.2" x2="1344.4" y2="1043.4" stroke="#303030" stroke-width="1.4"/>
<line x1="1347" y1="1049.2" x2="1349" y2="1043.4" stroke="#303030" stroke-width="1.4"/>
<line x1="1351.6" y1="1049.2" x2="1353.6" y2="1043.4" stroke="#303030" stroke-width="1.4"/>
</g>
<rect x="1363.6" y="1010.4" width="36.2" height="35.7" rx="0" stroke="#303030" stroke-width="1.35" fill="#fff"/>
<g clip-path="url(#c24)">
<line x1="1356.6" y1="1046.1" x2="1363.6" y2="1010.4" stroke="#303030" stroke-width="1.2"/>
<line x1="1361.1" y1="1046.1" x2="1368.1" y2="1010.4" stroke="#303030" stroke-width="1.2"/>
<line x1="1365.6" y1="1046.1" x2="1372.6" y2="1010.4" stroke="#303030" stroke-width="1.2"/>
<line x1="1370.1" y1="1046.1" x2="1377.1" y2="1010.4" stroke="#303030" stroke-width="1.2"/>
<line x1="1374.6" y1="1046.1" x2="1381.6" y2="1010.4" stroke="#303030" stroke-width="1.2"/>
<line x1="1379.1" y1="1046.1" x2="1386.1" y2="1010.4" stroke="#303030" stroke-width="1.2"/>
<line x1="1383.6" y1="1046.1" x2="1390.6" y2="1010.4" stroke="#303030" stroke-width="1.2"/>
<line x1="1388.1" y1="1046.1" x2="1395.1" y2="1010.4" stroke="#303030" stroke-width="1.2"/>
<line x1="1392.6" y1="1046.1" x2="1399.6" y2="1010.4" stroke="#303030" stroke-width="1.2"/>
<line x1="1397.1" y1="1046.1" x2="1404.1" y2="1010.4" stroke="#303030" stroke-width="1.2"/>
<line x1="1401.6" y1="1046.1" x2="1408.6" y2="1010.4" stroke="#303030" stroke-width="1.2"/>
<line x1="1406.1" y1="1046.1" x2="1413.1" y2="1010.4" stroke="#303030" stroke-width="1.2"/>
</g>
<line x1="1399.8" y1="1019" x2="1416.9" y2="1030.3" stroke="#303030" stroke-width="1.3"/>
<line x1="1399.8" y1="1041.5" x2="1416.9" y2="1052.7" stroke="#303030" stroke-width="1.3"/>
<rect x="1416.9" y="1015" width="33" height="51.5" rx="0" stroke="#303030" stroke-width="1.35" fill="#fff"/>
<g clip-path="url(#c25)">
<line x1="1406.9" y1="1066.5" x2="1416.9" y2="1015" stroke="#303030" stroke-width="1.2"/>
<line x1="1411.1" y1="1066.5" x2="1421.1" y2="1015" stroke="#303030" stroke-width="1.2"/>
<line x1="1415.3" y1="1066.5" x2="1425.3" y2="1015" stroke="#303030" stroke-width="1.2"/>
<line x1="1419.5" y1="1066.5" x2="1429.5" y2="1015" stroke="#303030" stroke-width="1.2"/>
<line x1="1423.7" y1="1066.5" x2="1433.7" y2="1015" stroke="#303030" stroke-width="1.2"/>
<line x1="1427.9" y1="1066.5" x2="1437.9" y2="1015" stroke="#303030" stroke-width="1.2"/>
<line x1="1432.1" y1="1066.5" x2="1442.1" y2="1015" stroke="#303030" stroke-width="1.2"/>
<line x1="1436.3" y1="1066.5" x2="1446.3" y2="1015" stroke="#303030" stroke-width="1.2"/>
<line x1="1440.5" y1="1066.5" x2="1450.5" y2="1015" stroke="#303030" stroke-width="1.2"/>
<line x1="1444.7" y1="1066.5" x2="1454.7" y2="1015" stroke="#303030" stroke-width="1.2"/>
<line x1="1448.9" y1="1066.5" x2="1458.9" y2="1015" stroke="#303030" stroke-width="1.2"/>
<line x1="1453.1" y1="1066.5" x2="1463.1" y2="1015" stroke="#303030" stroke-width="1.2"/>
<line x1="1457.3" y1="1066.5" x2="1467.3" y2="1015" stroke="#303030" stroke-width="1.2"/>
</g>
<path d="M1463.6,1090.4 L1463.6,991.5 Q1465.7,991.3 1467.7,993.5 C1478.2,1006 1482.5,1024 1482.5,1041 C1482.5,1058 1478.2,1076 1467.7,1088.5 Q1465.7,1090.5 1463.6,1090.4 Z" stroke="#303030" stroke-width="1.35" fill="none"/>
<path d="M1497.2,1012.1 L1501.7,1009.8 Q1513.15,1007.7 1524.6,1009.8 L1529.1,1012.1 L1529.1,1068.4 L1524.6,1070.8 Q1513.15,1073.1 1501.7,1070.8 L1497.2,1068.4 Z" stroke="#303030" stroke-width="1.3" fill="#fff"/>
<ellipse cx="1513.15" cy="1015.4" rx="12.4" ry="6.6" stroke="#303030" stroke-width="1.3" fill="none"/>
<ellipse cx="1513.15" cy="1041.1" rx="13.1" ry="13.1" stroke="#303030" stroke-width="1.3" fill="none"/>
<ellipse cx="1513.15" cy="1065.4" rx="12.4" ry="6.6" stroke="#303030" stroke-width="1.3" fill="none"/>
<text x="1314.32" y="565" font-size="28" fill="#1c1c1c" textLength="115.65" lengthAdjust="spacingAndGlyphs">заглушка</text>
<line x1="1313.3" y1="571.7" x2="1545.8" y2="571.7" stroke="#303030" stroke-width="1.5"/>
<text x="1287.04" y="807.3" font-size="28" fill="#1c1c1c" textLength="260.45" lengthAdjust="spacingAndGlyphs">полотенцесушитель</text>
<line x1="1287.8" y1="812.6" x2="1542.6" y2="812.6" stroke="#303030" stroke-width="1.5"/>
<text x="1344" y="874" font-size="28" fill="#1c1c1c" textLength="203.95" lengthAdjust="spacingAndGlyphs">магистраль ГВС</text>
<path d="M1546.2,881.4 L1361.6,881.4 L1321.2,1019.5" stroke="#303030" stroke-width="1.5" fill="none" stroke-linejoin="miter"/>
<path d="M1426.2,1078.7 L1382.7,1202.4 L1249.6,1202.4" stroke="#303030" stroke-width="1.5" fill="none" stroke-linejoin="miter"/>
<text x="1247.55" y="1163.1" font-size="28" fill="#1c1c1c" textLength="144.82" lengthAdjust="spacingAndGlyphs">эксцентрик</text>
<text x="1246.06" y="1191.5" font-size="28" fill="#1c1c1c" textLength="124.25" lengthAdjust="spacingAndGlyphs">1/2&quot;x3/4&quot;</text>
<path d="M1468.8,1097 L1505.2,1236.3 L1714.7,1236.3" stroke="#303030" stroke-width="1.5" fill="none" stroke-linejoin="miter"/>
<text x="1507.26" y="1228.2" font-size="28" fill="#1c1c1c" textLength="210.92" lengthAdjust="spacingAndGlyphs">отражатель 3/4&quot;</text>
<path d="M1511.6,1077.7 L1517.1,1181.8 L1771,1181.8" stroke="#303030" stroke-width="1.5" fill="none" stroke-linejoin="miter"/>
<text x="1532.91" y="1113.2" font-size="28" fill="#1c1c1c" textLength="158.26" lengthAdjust="spacingAndGlyphs">соединение</text>
<text x="1533.86" y="1140.6" font-size="28" fill="#1c1c1c" textLength="100.52" lengthAdjust="spacingAndGlyphs">угловое</text>
<text x="1531.85" y="1168" font-size="28" fill="#1c1c1c" textLength="175.47" lengthAdjust="spacingAndGlyphs">г/ш 3/4&quot;x1/2&quot;</text>
</svg></body></html>
